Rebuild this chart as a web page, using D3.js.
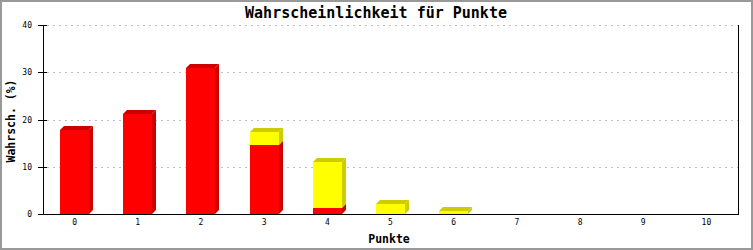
<!DOCTYPE html>
<html>
<head>
<meta charset="utf-8">
<script src="https://cdn.jsdelivr.net/npm/d3@7"></script>
<style>
  html, body { margin: 0; padding: 0; background: #fff; }
  svg text { font-family: "DejaVu Sans Mono", monospace; }
</style>
</head>
<body>
<div id="chart"></div>
<script>
// data
let categories = ['0', '1', '2', '3', '4', '5', '6', '7', '8', '9', '10'];
let redValues = [17.7, 21.1, 31.0, 14.5, 1.3, 0, 0, 0, 0, 0, 0];
let yellowValues = [0, 0, 0, 2.8, 9.6, 2.2, 0.7, 0, 0, 0, 0];
let yTicks = [0, 10, 20, 30, 40];

let width = 753,
    height = 250,
    margin = {left: 43, top: 25, right: 15, bottom: 36},
    depth = 4,
    barWidth = 29;

let svg = d3.select('#chart').append('svg')
    .attr('width', width)
    .attr('height', height);

// outer frame
svg.append('rect')
    .attr('x', 1).attr('y', 1)
    .attr('width', width - 2).attr('height', height - 2)
    .attr('fill', '#fff')
    .attr('stroke', '#999')
    .attr('stroke-width', 2);

let xScale = d3.scaleBand()
    .domain(categories)
    .range([margin.left, width - margin.right]);

let yScale = d3.scaleLinear()
    .domain([0, 40])
    .range([height - margin.bottom, margin.top]);

let x0 = margin.left, x1 = width - margin.right;

// grid lines
svg.append('g')
    .selectAll('line')
    .data(yTicks.filter(d => d > 0))
    .join('line')
    .attr('x1', x0 + 4)
    .attr('x2', x1)
    .attr('y1', d => Math.round(yScale(d)) + 0.5)
    .attr('y2', d => Math.round(yScale(d)) + 0.5)
    .attr('stroke', '#c0c0c0')
    .attr('stroke-dasharray', '2,4');

// bars
let bars_g = svg.append('g');

function drawSegment(i, lo, hi, front, dark) {
    if (hi - lo <= 0) return;
    let xl = Math.round(xScale(categories[i]) + xScale.bandwidth() / 2 - barWidth / 2),
        xr = xl + barWidth,
        yb = Math.round(yScale(lo)),
        yt = Math.round(yScale(hi));
    bars_g.append('rect')
        .attr('x', xl).attr('y', yt)
        .attr('width', barWidth).attr('height', yb - yt)
        .attr('fill', front);
    bars_g.append('polygon')
        .attr('points', [[xr, yb], [xr + depth, yb - depth], [xr + depth, yt - depth], [xr, yt]].join(' '))
        .attr('fill', dark);
    bars_g.append('polygon')
        .attr('points', [[xl, yt], [xl + depth, yt - depth], [xr + depth, yt - depth], [xr, yt]].join(' '))
        .attr('fill', dark);
}

categories.forEach((c, i) => {
    drawSegment(i, 0, redValues[i], '#ff0000', '#cc0000');
    drawSegment(i, redValues[i], redValues[i] + yellowValues[i], '#ffff00', '#cccc00');
});

// axes
let yAxis = svg.append('g');
yAxis.append('line')
    .attr('x1', x0 + 0.5).attr('x2', x0 + 0.5)
    .attr('y1', yScale(40)).attr('y2', yScale(0) + 1)
    .attr('stroke', '#000');
yAxis.selectAll('.tick')
    .data(yTicks)
    .join('line')
    .attr('x1', x0 - 5).attr('x2', d => d > 0 ? x0 + 4 : x0)
    .attr('y1', d => Math.round(yScale(d)) + 0.5)
    .attr('y2', d => Math.round(yScale(d)) + 0.5)
    .attr('stroke', '#000');
yAxis.selectAll('text')
    .data(yTicks)
    .join('text')
    .attr('x', x0 - 11)
    .attr('y', d => yScale(d) + 3)
    .attr('text-anchor', 'end')
    .attr('font-size', 8)
    .text(d => d);

svg.append('line')
    .attr('x1', x0).attr('x2', x1 + 1)
    .attr('y1', Math.round(yScale(0)) + 0.5).attr('y2', Math.round(yScale(0)) + 0.5)
    .attr('stroke', '#000');
svg.append('line')
    .attr('x1', x1 + 0.5).attr('x2', x1 + 0.5)
    .attr('y1', yScale(40)).attr('y2', yScale(0) + 1)
    .attr('stroke', '#000');

svg.append('g')
    .selectAll('text')
    .data(categories)
    .join('text')
    .attr('x', d => xScale(d) + xScale.bandwidth() / 2)
    .attr('y', yScale(0) + 11)
    .attr('text-anchor', 'middle')
    .attr('font-size', 8)
    .text(d => d);

// titles
svg.append('text')
    .attr('x', 376).attr('y', 18)
    .attr('text-anchor', 'middle')
    .attr('font-size', 15)
    .attr('font-weight', 'bold')
    .text('Wahrscheinlichkeit für Punkte');

svg.append('text')
    .attr('x', 389).attr('y', 243)
    .attr('text-anchor', 'middle')
    .attr('font-size', 11.5)
    .attr('font-weight', 'bold')
    .text('Punkte');

svg.append('text')
    .attr('transform', 'translate(15,121) rotate(-90)')
    .attr('text-anchor', 'middle')
    .attr('font-size', 11.5)
    .attr('font-weight', 'bold')
    .text('Wahrsch. (%)');
</script>
</body>
</html>
